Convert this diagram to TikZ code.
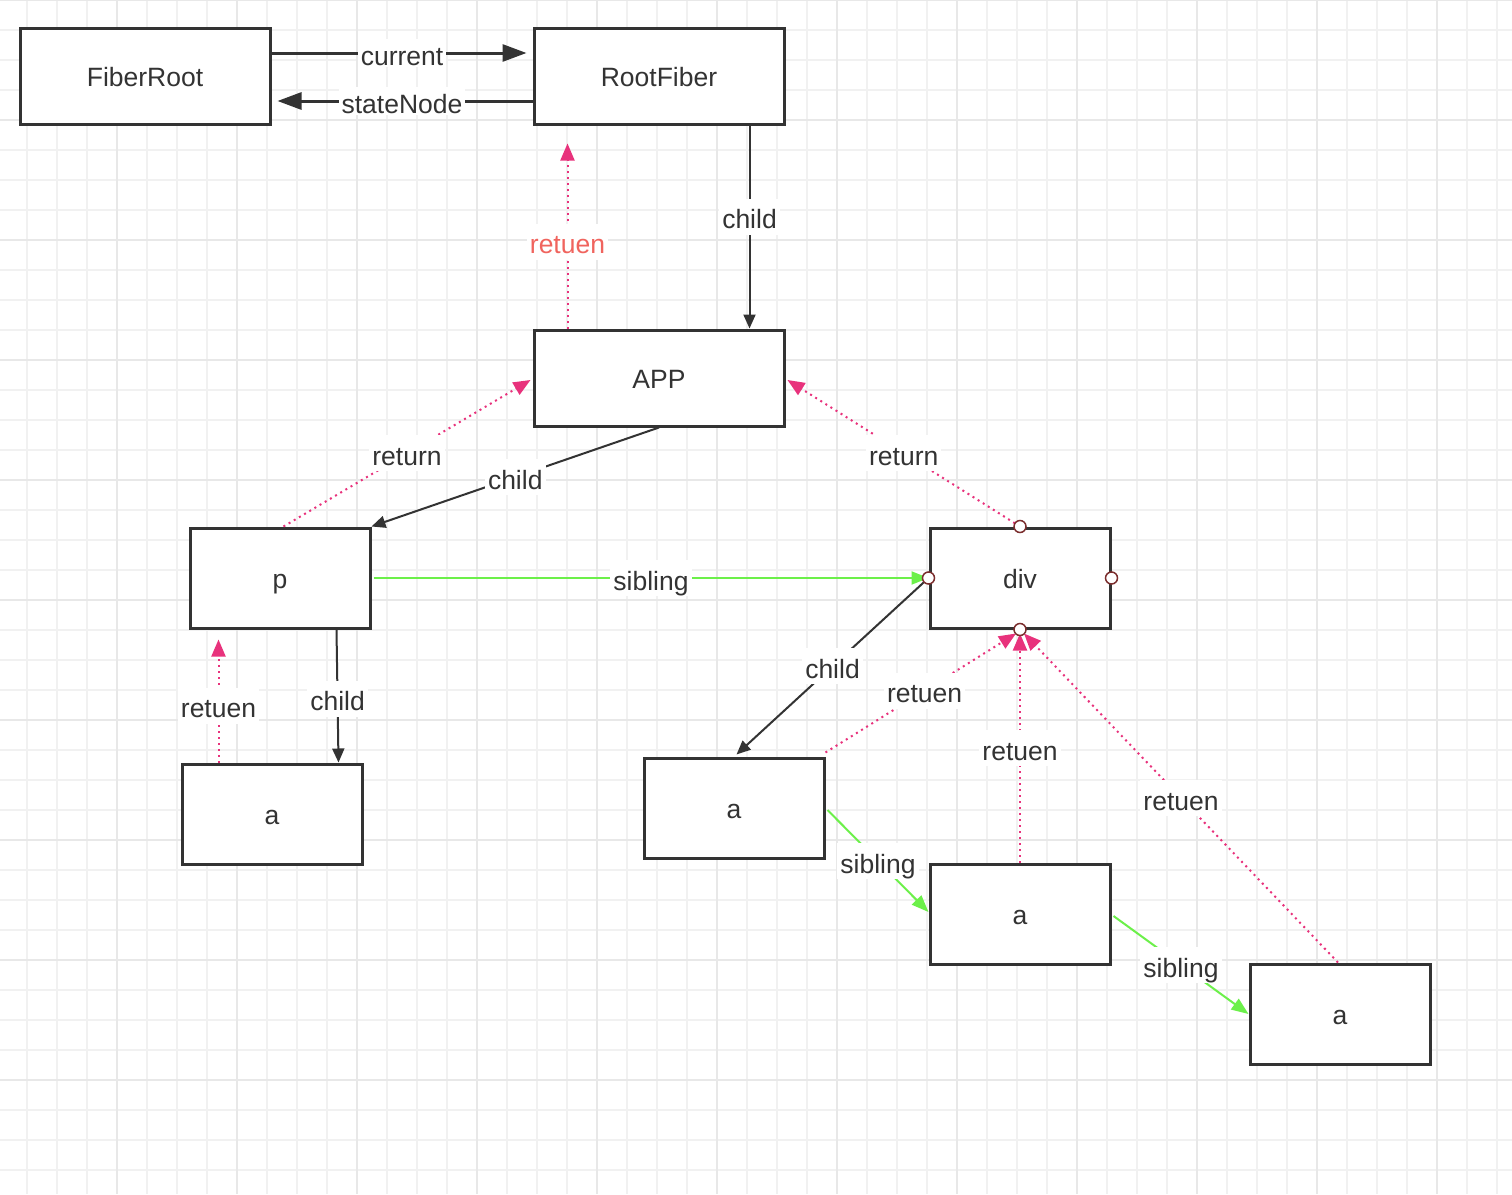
\documentclass[tikz,border=0pt]{standalone}
\usepackage{fontspec}
\setmainfont{Liberation Sans}
\usetikzlibrary{calc,arrows.meta}
\definecolor{ink}{HTML}{333333}
\definecolor{pinkc}{HTML}{E8327C}
\definecolor{greenc}{HTML}{6CF04A}
\definecolor{salmon}{HTML}{F0645E}
\definecolor{portc}{HTML}{7B2E2E}
\definecolor{gridminor}{HTML}{F1F1F1}
\definecolor{gridmajor}{HTML}{E8E8E8}
\begin{document}
\begin{tikzpicture}[x=1pt,y=-1pt,
  font=\fontsize{26.5}{30}\selectfont,
  box/.style={draw=ink,line width=3pt,fill=white,text=ink,minimum width=180pt,minimum height=100pt,inner sep=0pt,text height=21pt,text depth=0pt},
  wbox/.style={box,minimum width=250pt,minimum height=96pt},
  lbl/.style={fill=white,text=ink,inner xsep=3pt,inner ysep=6pt,text height=24pt,text depth=0pt},
  thickarr/.style={draw=ink,line width=3pt,-{Triangle[length=24pt,width=17pt]}},
  childarr/.style={draw=ink,line width=2pt,-{Triangle[length=14pt,width=12pt]}},
  retarr/.style={draw=pinkc,line width=2pt,dash pattern=on 2pt off 4pt,-{Triangle[length=17pt,width=14pt]}},
  sibarr/.style={draw=greenc,line width=2pt,-{Triangle[length=17pt,width=13pt]}},
  port/.style={draw=portc,line width=1.5pt,fill=white}
]
\useasboundingbox (0,0) rectangle (1512,1194);
\fill[white] (0,0) rectangle (1512,1194);
% grid
\foreach \gx in {27,57,...,1512} \draw[gridminor,line width=1.5pt] (\gx,0) -- (\gx,1194);
\foreach \gy in {0,30,...,1194} \draw[gridminor,line width=1.5pt] (0,\gy) -- (1512,\gy);
\foreach \gx in {117,237,...,1512} \draw[gridmajor,line width=2.5pt] (\gx,0) -- (\gx,1194);
\foreach \gy in {0,120,...,1194} \draw[gridmajor,line width=2.5pt] (0,\gy) -- (1512,\gy);

% nodes
\node[wbox] (fr) at (145,76) {FiberRoot};
\node[wbox] (rf) at (659,76) {RootFiber};
\node[wbox] (app) at (659,378) {APP};
\node[box] (p) at (280,578) {p};
\node[box] (div) at (1020,578) {div};
\node[box] (a1) at (272,814) {a};
\node[box] (a2) at (734,808) {a};
\node[box] (a3) at (1020,914) {a};
\node[box] (a4) at (1340,1014) {a};

% top connectors
\draw[thickarr,shorten >=6pt] ($(fr.east)+(0,-23)$) -- node[lbl,inner ysep=2pt]{current} ($(rf.west)+(0,-23)$);
\draw[thickarr,shorten >=6pt] ($(rf.west)+(0,25)$) -- node[lbl,inner ysep=2pt]{stateNode} ($(fr.east)+(0,25)$);
\draw[childarr] ($(rf.south west)+(217,0)$) -- node[lbl,pos=0.45]{child} ($(app.north west)+(217,0)$);
\draw[retarr] ($(app.north west)+(35,0)$) -- node[lbl,text=salmon,pos=0.47]{retuen} ($(rf.south west)+(35,18)$);

% APP to p / div
\draw[childarr] (app.south) -- node[lbl]{child} (p.north east);
\draw[retarr] ($(p.north west)+(95,0)$) -- node[lbl]{return} ($(app.west)+(-2,2)$);
\draw[retarr] (div.north) -- node[lbl]{return} ($(app.east)+(2,2)$);
\draw[sibarr] ($(p.east)+(2,0)$) -- node[lbl]{sibling} (div.west);

% p subtree
\draw[retarr] ($(a1.north west)+(38,0)$) -- node[lbl,pos=0.46]{retuen} ($(p.south west)+(30,10)$);
\draw[childarr] ($(p.south west)+(148,0)$) -- node[lbl,pos=0.52]{child} ($(a1.north west)+(158,0)$);

% div subtree
\draw[childarr] (div.west) -- node[lbl]{child} ($(a2.north west)+(94,-2)$);
\draw[retarr] ($(a2.north east)+(0,-4)$) -- node[lbl,pos=0.52]{retuen} ($(div.south)+(-4,4)$);
\draw[retarr] (a3.north) -- node[lbl]{retuen} ($(div.south)+(0,4)$);
\draw[retarr] ($(a4.north)+(-2,0)$) -- node[lbl]{retuen} ($(div.south)+(4,4)$);
\draw[sibarr] ($(a2.east)+(2,2)$) -- node[lbl]{sibling} ($(a3.west)+(0,-2)$);
\draw[sibarr] ($(a3.east)+(2,2)$) -- node[lbl]{sibling} (a4.west);

% ports on div
\foreach \an in {north,south,east,west} \draw[port] (div.\an) circle[radius=6pt];
\end{tikzpicture}
\end{document}
